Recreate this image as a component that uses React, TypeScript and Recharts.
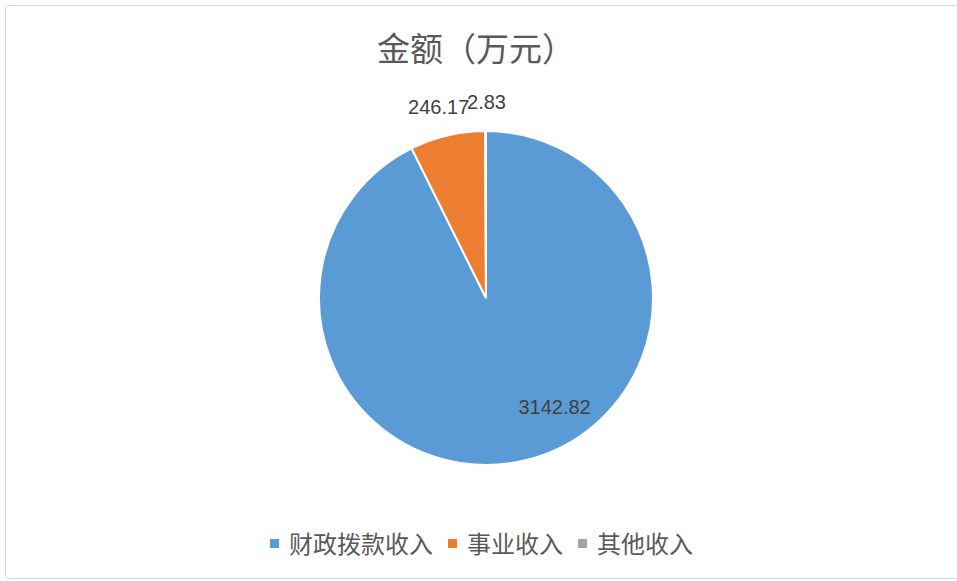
import React from "react";
import { PieChart, Pie, Cell, Legend } from "recharts";

const categories = ["财政拨款收入", "事业收入", "其他收入"];
const amounts = [3142.82, 246.17, 2.83];
const colors = ["#5B9BD5", "#ED7D31", "#A5A5A5"];

const data = categories.map((name, i) => ({ name, value: amounts[i] }));

const RADIAN = Math.PI / 180;

// label placement: inside for the big slice, outside for the small ones
const renderLabel = (props: any) => {
  const { cx, cy, midAngle, outerRadius, index, value } = props;
  let r = outerRadius + 29;
  let ang = midAngle;
  let dx = 0;
  if (index === 0) {
    r = outerRadius * 0.77;
    ang = midAngle + 19;
  }
  if (index === 1) dx = -2;
  if (index === 2) dx = 1;
  const x = cx + r * Math.cos(-ang * RADIAN) + dx;
  const y = cy + r * Math.sin(-ang * RADIAN);
  return (
    <text
      x={x}
      y={y}
      textAnchor="middle"
      dominantBaseline="central"
      fill="#404040"
      fontSize={20}
      fontFamily="'Liberation Sans', Arial, sans-serif"
    >
      {value}
    </text>
  );
};

const renderLegend = (props: any) => {
  const { payload } = props;
  return (
    <div style={{ display: "flex", justifyContent: "center", alignItems: "center", paddingLeft: 6 }}>
      {payload.map((entry: any, i: number) => (
        <div key={i} style={{ display: "flex", alignItems: "center", marginRight: i < payload.length - 1 ? 15 : 0 }}>
          <span style={{ display: "inline-block", width: 9, height: 9, background: entry.color, marginRight: 10 }} />
          <span style={{ fontSize: 24, color: "#595959", fontFamily: "'Noto Sans CJK SC', sans-serif", lineHeight: "30px" }}>
            {entry.value}
          </span>
        </div>
      ))}
    </div>
  );
};

export default function App() {
  return (
    <div style={{ position: "absolute", left: 0, top: 0, width: 957, height: 581, background: "#fff", overflow: "hidden" }}>
      <div
        style={{
          position: "absolute",
          left: 5,
          top: 5,
          width: 960,
          height: 574,
          border: "1px solid #d9d9d9",
          borderRadius: 4,
          boxSizing: "border-box",
        }}
      />
      <div
        style={{
          position: "absolute",
          left: 0,
          top: 26,
          width: 952,
          textAlign: "center",
          fontSize: 33,
          lineHeight: "42px",
          color: "#595959",
          fontFamily: "'Noto Sans CJK SC', sans-serif",
        }}
      >
        金额（万元）
      </div>
      <div style={{ position: "absolute", left: 0, top: 0 }}>
        <PieChart width={957} height={581} margin={{ top: 0, right: 0, bottom: 0, left: 0 }}>
          <Pie
            data={data}
            dataKey="value"
            nameKey="name"
            cx={486}
            cy={298}
            outerRadius={167}
            startAngle={90}
            endAngle={-270}
            stroke="#ffffff"
            strokeWidth={2}
            label={renderLabel}
            labelLine={false}
            isAnimationActive={false}
          >
            {data.map((d, i) => (
              <Cell key={d.name} fill={colors[i]} />
            ))}
          </Pie>
          <Legend
            verticalAlign="bottom"
            itemSorter={(item: any) => categories.indexOf(item.value)}
            content={renderLegend}
            wrapperStyle={{ top: 528, left: 0, width: 957, bottom: "auto" }}
          />
        </PieChart>
      </div>
    </div>
  );
}
